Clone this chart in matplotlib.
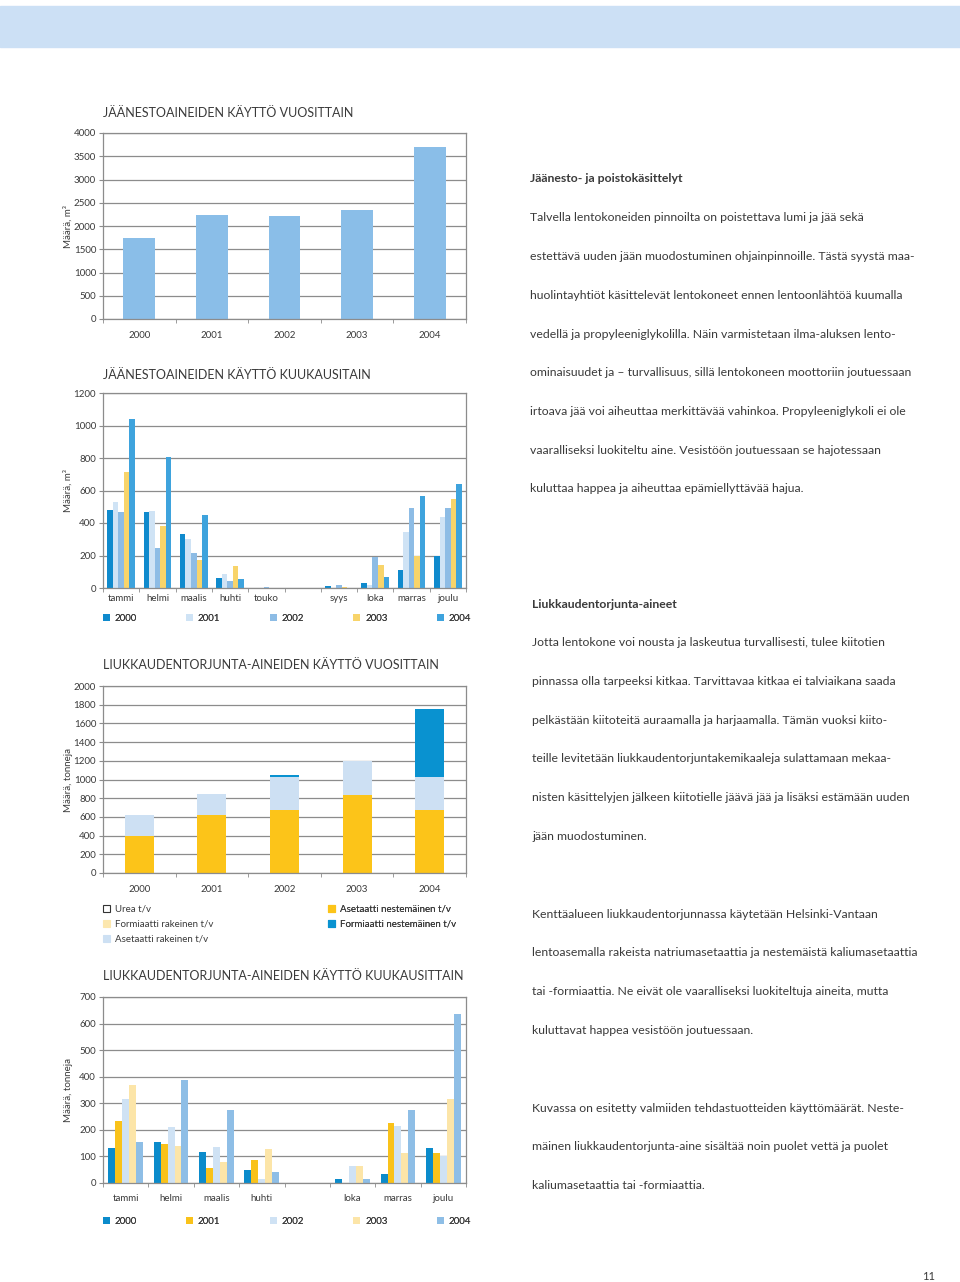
import numpy as np
import matplotlib
matplotlib.use("Agg")
import matplotlib.pyplot as plt
from matplotlib.patches import Patch, Rectangle

plt.rcParams['font.family'] = ['Lato', 'DejaVu Sans']

W, H = 960, 1282
TXT = '#3a3a3a'
GRID = '#8c8c8c'

# ---- data ----
years = ["2000", "2001", "2002", "2003", "2004"]
deice_yearly = [1735, 2240, 2215, 2350, 3700]

months_deice = ["tammi", "helmi", "maalis", "huhti", "touko", "",
                "syys", "loka", "marras", "joulu"]
deice_2000 = [482, 470, 330, 62, 0, 0, 10, 31, 109, 198]
deice_2001 = [530, 474, 299, 85, 0, 0, 0, 16, 346, 439]
deice_2002 = [466, 249, 216, 45, 5, 0, 16, 188, 493, 491]
deice_2003 = [711, 379, 175, 136, 0, 0, 6, 140, 198, 548]
deice_2004 = [1041, 804, 452, 58, 0, 0, 0, 68, 567, 637]

anti_labels = ["Urea t/v", "Formiaatti rakeinen t/v", "Asetaatti rakeinen t/v",
               "Asetaatti nestemäinen t/v", "Formiaatti nestemäinen t/v"]
anti_urea = [0, 0, 0, 0, 0]
anti_form_rak = [0, 0, 0, 0, 0]
anti_aset_rak = [220, 231, 363, 367, 355]
anti_aset_nest = [399, 616, 669, 829, 673]
anti_form_nest = [0, 0, 21, 0, 730]

months_anti = ["tammi", "helmi", "maalis", "huhti", "", "loka", "marras", "joulu"]
anti_2000 = [133, 153, 117, 48, 0, 16, 34, 132]
anti_2001 = [233, 146, 55, 85, 0, 0, 226, 114]
anti_2002 = [315, 211, 137, 15, 0, 64, 213, 103]
anti_2003 = [369, 141, 79, 129, 0, 64, 113, 316]
anti_2004 = [156, 386, 275, 43, 0, 15, 275, 635]

deice_cols = ['#0f8acd', '#cfe3f5', '#8dbce5', '#f8d46a', '#3ea3dd']
anti_cols = ['#0b8bcb', '#f9c21a', '#cfe2f4', '#fce5a8', '#8ebee6']
# colours keyed by anti_labels order
stack_cols = ['#ffffff', '#fce7ae', '#cde0f3', '#fcc419', '#0992d0']


def px_axes(fig, x0, y0, x1, y1):
    return fig.add_axes([x0 / W, 1 - y1 / H, (x1 - x0) / W, (y1 - y0) / H])


def style(ax, ymax, step, ncat, xpad):
    ax.set_xlim(-0.5, ncat - 0.5)
    ax.set_ylim(0, ymax)
    ax.set_yticks(np.arange(0, ymax + 1, step))
    ax.yaxis.grid(True, color=GRID, lw=0.9)
    ax.set_axisbelow(True)
    for s in ax.spines.values():
        s.set_color(GRID)
        s.set_linewidth(0.9)
    ax.set_xticks(np.arange(ncat))
    ax.set_xticks(np.arange(ncat + 1) - 0.5, minor=True)
    ax.tick_params(axis='x', which='major', length=0, pad=xpad,
                   labelsize=7, labelcolor=TXT)
    ax.tick_params(axis='x', which='minor', length=3, color=GRID)
    ax.tick_params(axis='y', length=3, color=GRID, labelsize=7,
                   labelcolor=TXT, pad=2)


def ylab(ax, text):
    ax.set_ylabel(text, fontsize=7, color=TXT)
    ax.yaxis.set_label_coords(-0.083, 0.5)


def fig_legend(ax, handles, x, y, ncol=1, width=None, spacing=0.3):
    kw = dict(handles=handles, loc='upper left', frameon=False, fontsize=7,
              handlelength=0.7, handleheight=0.7, handletextpad=0.5,
              borderaxespad=0, borderpad=0, labelspacing=spacing,
              labelcolor=TXT, ncol=ncol, bbox_transform=fig.transFigure)
    if width is None:
        kw['bbox_to_anchor'] = (x / W, 1 - y / H)
    else:
        kw['bbox_to_anchor'] = (x / W, 1 - y / H, width / W, 0)
        kw['mode'] = 'expand'
    leg = ax.legend(**kw)
    ax.add_artist(leg)
    return leg


fig = plt.figure(figsize=(W / 100, H / 100), dpi=100)

# top banner
fig.patches.append(Rectangle((0, 1 - 47 / H), 1, 41 / H, transform=fig.transFigure,
                             color='#cce0f5', zorder=0))

# ---- chart 1 ----
ax1 = px_axes(fig, 103, 133, 466, 319)
style(ax1, 4000, 500, 5, 9)
ax1.bar(range(5), deice_yearly, width=0.44, color='#8abee8', zorder=2)
ax1.set_xticklabels(years)
ylab(ax1, "Määrä, m³")
fig.text(103 / W, 1 - 113 / H, "JÄÄNESTOAINEIDEN KÄYTTÖ VUOSITTAIN",
         fontsize=9, color=TXT, va='center')

# ---- chart 2 ----
ax2 = px_axes(fig, 103, 393, 466, 588)
style(ax2, 1200, 200, 10, 4)
bw = 0.153
h2 = []
for i, (vals, c) in enumerate(zip([deice_2000, deice_2001, deice_2002,
                                   deice_2003, deice_2004], deice_cols)):
    h2.append(ax2.bar(np.arange(10) + (i - 2) * bw, vals, width=bw, color=c,
                      label=years[i], zorder=2))
ax2.set_xticklabels(months_deice)
ylab(ax2, "Määrä, m³")
fig_legend(ax2, h2, 103, 614, ncol=5, width=368)
fig.text(103 / W, 1 - 375 / H, "JÄÄNESTOAINEIDEN KÄYTTÖ KUUKAUSITAIN",
         fontsize=9, color=TXT, va='center')

# ---- chart 3 ----
ax3 = px_axes(fig, 103, 686, 466, 873)
style(ax3, 2000, 200, 5, 9)
series = dict(zip(anti_labels, [anti_urea, anti_form_rak, anti_aset_rak,
                                anti_aset_nest, anti_form_nest]))
colours = dict(zip(anti_labels, stack_cols))
# stacking order from the bottom
stack_order = ["Asetaatti nestemäinen t/v", "Asetaatti rakeinen t/v",
               "Formiaatti nestemäinen t/v", "Formiaatti rakeinen t/v", "Urea t/v"]
bottom = np.zeros(5)
for lab in stack_order:
    vals = np.array(series[lab])
    ax3.bar(range(5), vals, width=0.40, bottom=bottom, color=colours[lab], zorder=2)
    bottom += vals
handles = [Patch(facecolor=colours[lab],
                 edgecolor='#333333' if lab == "Urea t/v" else colours[lab],
                 linewidth=0.8, label=lab) for lab in anti_labels]
ax3.set_xticklabels(years)
ylab(ax3, "Määrä, tonneja")
fig_legend(ax3, handles[:3], 103, 905, spacing=0.6)
fig_legend(ax3, handles[3:], 328, 905, spacing=0.6)
fig.text(103 / W, 1 - 665 / H, "LIUKKAUDENTORJUNTA-AINEIDEN KÄYTTÖ VUOSITTAIN",
         fontsize=9, color=TXT, va='center')

# ---- chart 4 ----
ax4 = px_axes(fig, 103, 997, 466, 1183)
style(ax4, 700, 100, 8, 8)
h4 = []
for i, (vals, c) in enumerate(zip([anti_2000, anti_2001, anti_2002,
                                   anti_2003, anti_2004], anti_cols)):
    h4.append(ax4.bar(np.arange(8) + (i - 2) * bw, vals, width=bw, color=c,
                      label=years[i], zorder=2))
ax4.set_xticklabels(months_anti)
ylab(ax4, "Määrä, tonneja")
fig_legend(ax4, h4, 103, 1217, ncol=5, width=368)
fig.text(103 / W, 1 - 976 / H, "LIUKKAUDENTORJUNTA-AINEIDEN KÄYTTÖ KUUKAUSITTAIN",
         fontsize=9, color=TXT, va='center')

# ---- body text ----
LS = 38.75


def para(lines, y0, x=530, bold_first=False):
    for k, line in enumerate(lines):
        fig.text(x / W, 1 - (y0 + k * LS) / H, line, fontsize=8.8, color=TXT,
                 va='center', fontweight='bold' if (bold_first and k == 0) else 'normal')


para(["Jäänesto- ja poistokäsittelyt",
      "Talvella lentokoneiden pinnoilta on poistettava lumi ja jää sekä",
      "estettävä uuden jään muodostuminen ohjainpinnoille. Tästä syystä maa-",
      "huolintayhtiöt käsittelevät lentokoneet ennen lentoonlähtöä kuumalla",
      "vedellä ja propyleeniglykolilla. Näin varmistetaan ilma-aluksen lento-",
      "ominaisuudet ja – turvallisuus, sillä lentokoneen moottoriin joutuessaan",
      "irtoava jää voi aiheuttaa merkittävää vahinkoa. Propyleeniglykoli ei ole",
      "vaaralliseksi luokiteltu aine. Vesistöön joutuessaan se hajotessaan",
      "kuluttaa happea ja aiheuttaa epämiellyttävää hajua."], 179, bold_first=True)

para(["Liukkaudentorjunta-aineet",
      "Jotta lentokone voi nousta ja laskeutua turvallisesti, tulee kiitotien",
      "pinnassa olla tarpeeksi kitkaa. Tarvittavaa kitkaa ei talviaikana saada",
      "pelkästään kiitoteitä auraamalla ja harjaamalla. Tämän vuoksi kiito-",
      "teille levitetään liukkaudentorjuntakemikaaleja sulattamaan mekaa-",
      "nisten käsittelyjen jälkeen kiitotielle jäävä jää ja lisäksi estämään uuden",
      "jään muodostuminen."], 604, x=532, bold_first=True)

para(["Kenttäalueen liukkaudentorjunnassa käytetään Helsinki-Vantaan",
      "lentoasemalla rakeista natriumasetaattia ja nestemäistä kaliumasetaattia",
      "tai -formiaattia. Ne eivät ole vaaralliseksi luokiteltuja aineita, mutta",
      "kuluttavat happea vesistöön joutuessaan."], 914, x=532)

para(["Kuvassa on esitetty valmiiden tehdastuotteiden käyttömäärät. Neste-",
      "mäinen liukkaudentorjunta-aine sisältää noin puolet vettä ja puolet",
      "kaliumasetaattia tai -formiaattia."], 1108, x=532)

fig.text(922 / W, 1 - 1276 / H, "11", fontsize=8, color=TXT, va='center')

fig.savefig("out.png", dpi=100)
